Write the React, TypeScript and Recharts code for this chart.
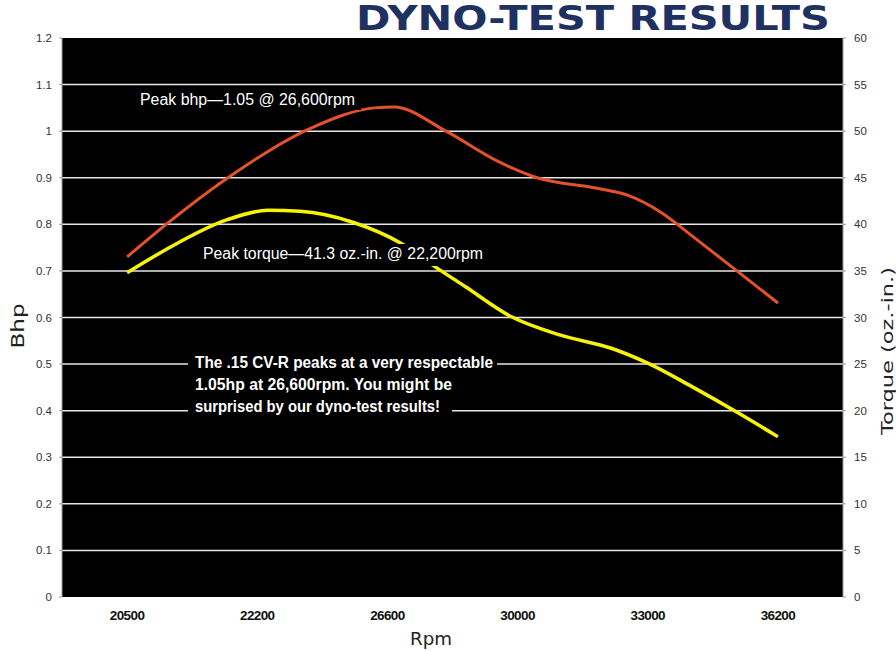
import React from "react";
import { CartesianGrid, Line, LineChart, XAxis, YAxis } from "recharts";

// rpm points on the dyno sheet, drawn evenly spaced
const categories = ["20500", "22200", "26600", "30000", "33000", "36200"];

// x is in category steps (0 = 20500 ... 5 = 36200)
const bhpPos = [0, 0.3, 0.8, 1.4, 1.9, 2.05, 2.45, 2.85, 3.15, 3.6, 3.85, 4.1, 4.35, 4.7, 5];
const bhpVals = [0.73, 0.8, 0.905, 1.005, 1.05, 1.052, 1.0, 0.935, 0.9, 0.878, 0.862, 0.826, 0.773, 0.697, 0.631];

const torquePos = [0, 0.3, 0.77, 1.08, 1.33, 1.74, 2.1, 2.35, 2.6, 2.95, 3.33, 3.72, 4.0, 4.35, 4.69, 5];
const torqueVals = [34.8, 37.3, 40.5, 41.5, 41.4, 40.2, 38.0, 35.6, 33.3, 30.1, 28.1, 26.7, 25.1, 22.5, 19.8, 17.2];

const bhpTicks = [0, 0.1, 0.2, 0.3, 0.4, 0.5, 0.6, 0.7, 0.8, 0.9, 1, 1.1, 1.2];
const torqueTicks = [0, 5, 10, 15, 20, 25, 30, 35, 40, 45, 50, 55, 60];

const bhpData = bhpPos.map((x, i) => ({ x, bhp: bhpVals[i] }));
const torqueData = torquePos.map((x, i) => ({ x, torque: torqueVals[i] }));

const tickFont = { fontSize: 11.5, fill: "#333", fontFamily: "'Liberation Sans', Arial, sans-serif" };
const noteFont = "'Liberation Sans Narrow', 'Liberation Sans', Arial, sans-serif";
const labelFont = "'DejaVu Sans', sans-serif";

// grid only between the plot edges, like the printed sheet
const innerGrid = (args: any) => {
  const inner = bhpTicks.slice(1, -1);
  const s = args?.yAxis?.scale;
  if (typeof s === "function") return inner.map((v) => s(v));
  if (s && typeof s.map === "function") return inner.map((v) => s.map(v));
  const o = args?.offset;
  if (o && o.height) return inner.map((v) => o.top + o.height * (1 - v / 1.2));
  return inner.map((v) => 38 + 559 * (1 - v / 1.2));
};

export default function App() {
  return (
    <div style={{ position: "absolute", left: 0, top: 0, width: 896, height: 651, background: "#fff" }}>
      <LineChart width={896} height={651} margin={{ top: 38, right: 0, bottom: 0, left: 0 }}>
        <CartesianGrid
          yAxisId="bhp"
          vertical={false}
          fill="#000"
          stroke="#e6e6e6"
          strokeWidth={1.5}
          horizontalCoordinatesGenerator={innerGrid}
        />
        <XAxis
          dataKey="x"
          type="number"
          domain={[-0.5, 5.5]}
          ticks={[0, 1, 2, 3, 4, 5]}
          tickFormatter={(i: number) => categories[i]}
          height={54}
          axisLine={false}
          tickLine={false}
          tickSize={6}
          tickMargin={7}
          tick={{ fontSize: 13.5, fill: "#111", fontWeight: "bold", fontFamily: "'Liberation Sans', Arial, sans-serif", letterSpacing: -0.6 }}
        />
        <YAxis
          yAxisId="bhp"
          orientation="left"
          width={62}
          domain={[0, 1.2]}
          ticks={bhpTicks}
          axisLine={{ stroke: "#999" }}
          tickLine={{ stroke: "#999" }}
          tickSize={3}
          tickMargin={7}
          tick={tickFont}
        />
        <YAxis
          yAxisId="torque"
          orientation="right"
          width={53}
          domain={[0, 60]}
          ticks={torqueTicks}
          axisLine={{ stroke: "#999" }}
          tickLine={{ stroke: "#999" }}
          tickSize={3}
          tickMargin={8}
          tick={tickFont}
        />
        <Line
          yAxisId="bhp"
          data={bhpData}
          dataKey="bhp"
          type="monotone"
          stroke="#e5522a"
          strokeWidth={3}
          dot={false}
          activeDot={false}
          isAnimationActive={false}
        />
        <Line
          yAxisId="torque"
          data={torqueData}
          dataKey="torque"
          type="monotone"
          stroke="#f7f304"
          strokeWidth={3.5}
          dot={false}
          activeDot={false}
          isAnimationActive={false}
        />

        {/* title and axis names */}
        <text x={356} y={30} fill="#1e3160" fontFamily={labelFont} fontWeight="bold" fontSize={33} textLength={474} lengthAdjust="spacingAndGlyphs">
          DYNO-TEST RESULTS
        </text>
        <text x={431} y={645} textAnchor="middle" fill="#222" fontFamily={labelFont} fontSize={17} textLength={42} lengthAdjust="spacingAndGlyphs">
          Rpm
        </text>
        <text
          x={0}
          y={0}
          transform="translate(24 326) rotate(-90)"
          textAnchor="middle"
          fill="#222"
          fontFamily={labelFont}
          fontSize={17}
          textLength={45}
          lengthAdjust="spacingAndGlyphs"
        >
          Bhp
        </text>
        <text
          x={0}
          y={0}
          transform="translate(893 351) rotate(-90)"
          textAnchor="middle"
          fill="#222"
          fontFamily={labelFont}
          fontSize={16}
          textLength={168}
          lengthAdjust="spacingAndGlyphs"
        >
          Torque (oz.-in.)
        </text>
      </LineChart>

      {/* notes sit on top of the curves, black boxes break the grid like the print */}
      <svg
        width={896}
        height={651}
        style={{ position: "absolute", left: 0, top: 0, pointerEvents: "none" }}
      >
        <rect x={135} y={89} width={226} height={21} fill="#000" />
        <text x={140} y={105} fill="#fff" fontFamily={noteFont} fontSize={16} textLength={215} lengthAdjust="spacingAndGlyphs">
          Peak bhp—1.05 @ 26,600rpm
        </text>
        <rect x={198} y={244} width={291} height={22} fill="#000" />
        <text x={203} y={259} fill="#fff" fontFamily={noteFont} fontSize={16} textLength={280} lengthAdjust="spacingAndGlyphs">
          Peak torque—41.3 oz.-in. @ 22,200rpm
        </text>
        <rect x={188} y={354} width={309} height={18} fill="#000" />
        <text x={195} y={368} fill="#fff" fontFamily={noteFont} fontWeight="bold" fontSize={16} textLength={298} lengthAdjust="spacingAndGlyphs">
          The .15 CV-R peaks at a very respectable
        </text>
        <rect x={188} y={376} width={272} height={18} fill="#000" />
        <text x={195} y={390} fill="#fff" fontFamily={noteFont} fontWeight="bold" fontSize={16} textLength={257} lengthAdjust="spacingAndGlyphs">
          1.05hp at 26,600rpm. You might be
        </text>
        <rect x={188} y={398} width={264} height={18} fill="#000" />
        <text x={195} y={412} fill="#fff" fontFamily={noteFont} fontWeight="bold" fontSize={16} textLength={245} lengthAdjust="spacingAndGlyphs">
          surprised by our dyno-test results!
        </text>
      </svg>
    </div>
  );
}
